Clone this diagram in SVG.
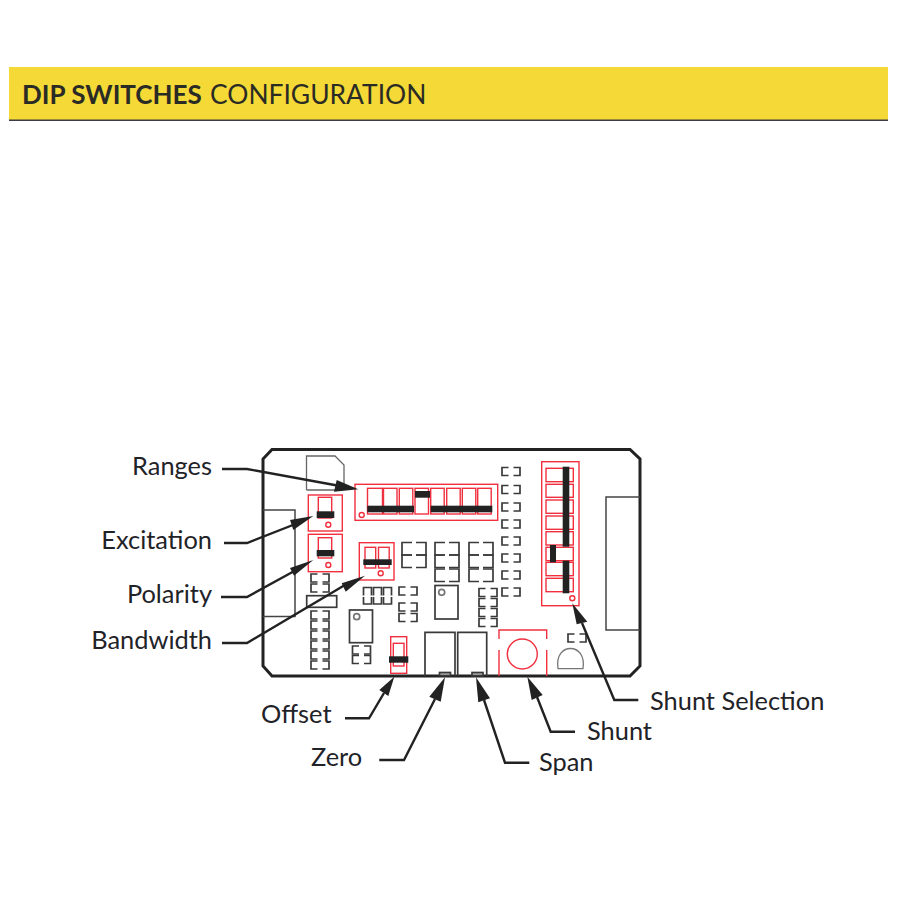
<svg xmlns="http://www.w3.org/2000/svg" width="900" height="900" viewBox="0 0 900 900">
<style>
.t{font-family:"Lato","Noto Sans","Liberation Sans",sans-serif;font-size:25.400px;fill:#1f2328}
.h{font-family:"Lato","Noto Sans","Liberation Sans",sans-serif;font-size:26.400px;fill:#2b2b25}
.o{fill:none;stroke:#222;stroke-width:3}
.g{fill:none;stroke:#444;stroke-width:1.5}
.r{fill:none;stroke:#f0303f;stroke-width:1.4}
.k{fill:#222}
.c{fill:none;stroke:#222;stroke-width:2.4}
.a{fill:#222}
.b{fill:none;stroke:#3a3a3a;stroke-width:1.7}
</style>
<defs>
<path id="br" d="M6.500 0H0V8H6.500M11.500 0H18V8H11.500"/>
<path id="bt" d="M10 0H0V12.500H10M14 0H24V12.500H14"/>
<path id="bv" d="M0 8V0H8V8"/>
<path id="bu" d="M0 0V7H8V0"/>
</defs>
<rect width="900" height="900" fill="#fff"/>
<g id="header">
<rect x="9" y="67" width="879" height="53" fill="#f5d936"/>
<rect x="9" y="119.500" width="879" height="1.500" fill="#3c3c44"/>
<text class="h" x="22" y="104" font-weight="700" font-size="26" style="font-size:26px">DIP SWITCHES</text>
<text class="h" x="210" y="104">CONFIGURATION</text>
</g>
<g id="board">
<path class="o" d="M272 449.500H630L640 459V666L630 676H272L263 666V459Z"/>
<path class="g" d="M263 510H295V616.500H263"/>
<path class="g" d="M640 497H606V630H640"/>
<path d="M306.500 490V456H335L344 465V490M306.500 490H336" fill="none" stroke="#666" stroke-width="1.300"/>
</g>
<g id="components" class="b">
<use href="#br" x="502" y="467.500"/><use href="#br" x="502" y="485.500"/><use href="#br" x="502" y="503"/><use href="#br" x="502" y="520"/><use href="#br" x="502" y="537"/><use href="#br" x="502" y="554"/><use href="#br" x="502" y="571"/><use href="#br" x="502" y="588"/>
<use href="#bt" x="402" y="542.500"/><use href="#bt" x="402" y="555"/>
<use href="#bt" x="435" y="542.500"/><use href="#bt" x="435" y="555"/><use href="#bt" x="435" y="569"/>
<use href="#bt" x="469" y="542.500"/><use href="#bt" x="469" y="555"/><use href="#bt" x="469" y="569"/>
<use href="#br" x="399" y="587"/><use href="#br" x="399" y="603"/><use href="#br" x="399" y="613.500"/>
<use href="#br" x="479" y="588.500"/><use href="#br" x="479" y="598.500"/><use href="#br" x="479" y="608.500"/><use href="#br" x="479" y="618.500"/>
<rect x="435" y="585.500" width="23" height="33.500"/><circle cx="441.700" cy="592.300" r="3" stroke="#777"/>
<use href="#bv" x="363.500" y="587.500"/><use href="#bv" x="373.500" y="587.500"/><use href="#bv" x="383.500" y="587.500"/>
<use href="#bu" x="363.500" y="597"/><use href="#bu" x="373.500" y="597"/><use href="#bu" x="383.500" y="597"/>
<use href="#br" x="311" y="574"/><use href="#br" x="311" y="584"/>
<rect x="306.700" y="595.700" width="30" height="11.600"/>
<use href="#br" x="311" y="611"/><use href="#br" x="311" y="621"/><use href="#br" x="311" y="631"/><use href="#br" x="311" y="641"/><use href="#br" x="311" y="651"/><use href="#br" x="311" y="661"/>
<rect x="349.500" y="610" width="23" height="32.700"/><circle cx="356.700" cy="616.700" r="3" stroke="#777"/>
<use href="#br" x="352.500" y="646"/><use href="#br" x="352.500" y="655.500"/>
<use href="#br" x="568" y="634"/>
<path d="M558 668.700C556 655 563 648.500 570.500 648.500C578 648.500 585 655 583 668.700Z" stroke="#777" stroke-width="1.300"/>
<path d="M425 676V632.300H455V676M457.700 676V632.300H486.700V676"/>
<rect x="439.500" y="672.500" width="11" height="3.200" fill="#aaa"/>
<rect x="472" y="672.500" width="11" height="3.200" fill="#aaa"/>
</g>
<g id="ranges">
<rect class="r" x="355" y="484.300" width="142.700" height="36"/>
<rect class="r" x="367.500" y="488.300" width="15" height="25.700"/><rect class="r" x="383.500" y="488.300" width="13.500" height="25.700"/><rect class="r" x="399.300" y="488.300" width="13.500" height="25.700"/><rect class="r" x="415" y="488.300" width="13.500" height="25.700"/><rect class="r" x="430.700" y="488.300" width="13.500" height="25.700"/><rect class="r" x="446.700" y="488.300" width="13.500" height="25.700"/><rect class="r" x="462.300" y="488.300" width="13.500" height="25.700"/><rect class="r" x="477.700" y="488.300" width="13.500" height="25.700"/>
<rect class="k" x="367.300" y="505.700" width="46.700" height="6.600"/><rect class="k" x="430.700" y="505.700" width="61.600" height="6.600"/><rect class="k" x="415" y="491" width="15" height="6.700"/>
<circle class="r" cx="361.700" cy="515" r="2.500"/>
</g>
<g id="excitation">
<rect class="r" x="308.300" y="495" width="34" height="36"/><rect class="r" x="318.300" y="497.300" width="13.400" height="20.700"/>
<rect class="k" x="316.700" y="511.300" width="17.600" height="6.700"/><circle class="r" cx="328.300" cy="524.700" r="2.500"/>
</g>
<g id="polarity">
<rect class="r" x="308.300" y="534.300" width="34" height="37.400"/><rect class="r" x="318.300" y="537.700" width="13.400" height="20.300"/>
<rect class="k" x="316.700" y="550" width="17.600" height="6.300"/><circle class="r" cx="328.300" cy="565" r="2.500"/>
</g>
<g id="bandwidth">
<rect class="r" x="359.300" y="542.700" width="34.700" height="37.300"/><rect class="r" x="365" y="547.300" width="10.700" height="20.700"/><rect class="r" x="378.500" y="547.300" width="10.700" height="20.700"/>
<rect class="k" x="363.300" y="559.300" width="28.400" height="5.700"/><circle class="r" cx="380.700" cy="573.300" r="2.500"/>
</g>
<g id="offset">
<rect class="r" x="390.700" y="636.700" width="16" height="36.600"/><rect class="r" x="393.300" y="643.300" width="10.700" height="22.700"/>
<rect class="k" x="389" y="656.300" width="19.300" height="6.400"/>
</g>
<g id="shunt">
<path class="r" d="M499 639V630H546.700V639M499 650V676M546.700 650V676"/><circle class="r" cx="522.300" cy="654" r="15"/>
</g>
<g id="shunt-selection">
<rect class="r" x="541.700" y="461.700" width="37.300" height="144"/>
<rect class="r" x="546" y="468.300" width="27.300" height="13.400"/><rect class="r" x="546" y="484.300" width="27.300" height="13"/><rect class="r" x="546" y="500" width="27.300" height="13.300"/><rect class="r" x="546" y="516" width="27.300" height="13.300"/><rect class="r" x="546" y="531.700" width="27.300" height="13.300"/><rect class="r" x="546" y="547.300" width="27.300" height="13.400"/><rect class="r" x="546" y="562.300" width="27.300" height="13.400"/><rect class="r" x="546" y="578.300" width="27.300" height="13.400"/>
<rect class="k" x="562.700" y="466.700" width="6.600" height="80"/><rect class="k" x="550" y="545" width="6" height="17.300"/><rect class="k" x="562.700" y="560.700" width="6.600" height="32.600"/>
<circle class="r" cx="572.300" cy="598.300" r="2.500"/>
</g>
<g id="connectors">
<path class="c" d="M222 469H247L340 486"/><polygon class="a" points="358.300,489.300 336.700,480 334,491.700"/>
<path class="c" d="M224 543H247L298 523"/><polygon class="a" points="313.300,516 290,520 293.300,530"/>
<path class="c" d="M221 597H247L298 569"/><polygon class="a" points="313.300,560 290,568 294,575.700"/>
<path class="c" d="M222 643H247L350 582"/><polygon class="a" points="365,575.700 341.700,583.300 345.700,591.700"/>
<path class="c" d="M345 718.300H369L384 693"/><polygon class="a" points="394.300,676.700 379.300,690 388.300,696"/>
<path class="c" d="M379.300 760H404L435 699"/><polygon class="a" points="445,677.300 429.300,696.700 440.700,701.700"/>
<path class="c" d="M529.300 762.700H505L484 700"/><polygon class="a" points="476,677.300 478.300,702.300 490,698.300"/>
<path class="c" d="M575 731.700H550.700L537 697"/><polygon class="a" points="527.300,676.700 531.700,700 542.700,695"/>
<path class="c" d="M638.300 700H614.300L582 623"/><polygon class="a" points="572.300,603.300 576.700,624.300 587.300,621.700"/>
</g>
<g id="labels">
<text class="t" x="212" y="475" text-anchor="end">Ranges</text>
<text class="t" x="212" y="549" text-anchor="end">Excitation</text>
<text class="t" x="212" y="603" text-anchor="end">Polarity</text>
<text class="t" x="212" y="648.500" text-anchor="end">Bandwidth</text>
<text class="t" x="261" y="723">Offset</text>
<text class="t" x="311" y="766">Zero</text>
<text class="t" x="539" y="771">Span</text>
<text class="t" x="587" y="740">Shunt</text>
<text class="t" x="650" y="710">Shunt Selection</text>
</g>
</svg>
